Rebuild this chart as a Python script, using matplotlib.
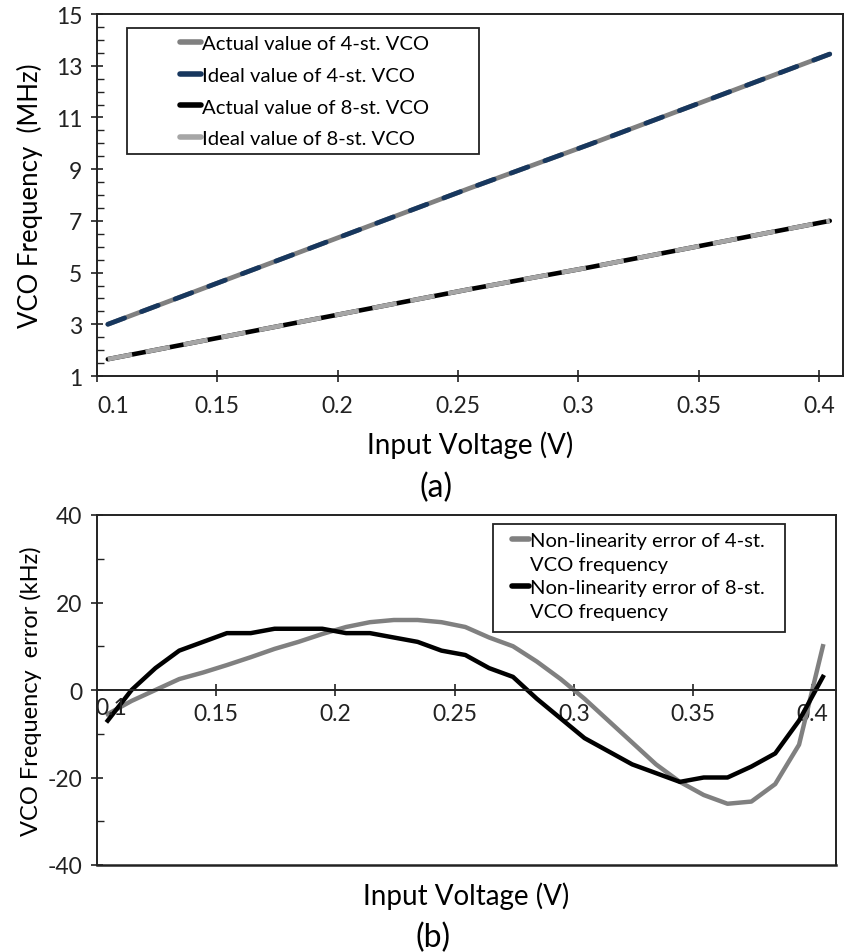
import matplotlib
matplotlib.use("Agg")
import matplotlib.pyplot as plt
from matplotlib.lines import Line2D
from matplotlib.patches import Rectangle
from matplotlib.ticker import MultipleLocator

plt.rcParams["font.family"] = ["Lato", "DejaVu Sans"]
plt.rcParams["axes.unicode_minus"] = False

# (a) VCO frequency (MHz) vs input voltage
V_TOP = [0.1045, 0.1545, 0.2045, 0.2545, 0.3045, 0.3545, 0.4045]
ACTUAL_4ST = [3.0, 4.75, 6.5, 8.25, 9.95, 11.7, 13.45]
IDEAL_4ST = [3.0, 4.75, 6.5, 8.25, 9.95, 11.7, 13.45]
ACTUAL_8ST = [1.65, 2.55, 3.45, 4.35, 5.2, 6.1, 7.0]
IDEAL_8ST = [1.65, 2.55, 3.45, 4.35, 5.2, 6.1, 7.0]

# (b) non-linearity error (kHz)
V_ERR = [0.1045, 0.1145, 0.1245, 0.1345, 0.1445, 0.1545, 0.1645, 0.1745,
         0.1845, 0.1945, 0.2045, 0.2145, 0.2245, 0.2345, 0.2445, 0.2545,
         0.2645, 0.2745, 0.2845, 0.2945, 0.3045, 0.3145, 0.3245, 0.3345,
         0.3445, 0.3545, 0.3645, 0.3745, 0.3845, 0.3945, 0.4045]
ERR_4ST = [-5.5, -2.5, 0, 2.5, 4, 5.7, 7.5, 9.4, 11, 12.8, 14.4, 15.5, 16, 16,
           15.5, 14.4, 12, 10, 6.5, 2.5, -2, -7, -12, -17, -21, -24, -26,
           -25.5, -21.5, -12.5, 10]
ERR_8ST = [-7, 0, 5, 9, 11, 13, 13, 14, 14, 14, 13, 13, 12, 11, 9, 8, 5, 3,
           -2, -6.5, -11, -14, -17, -19, -21, -20, -20, -17.5, -14.5, -7, 3]

X_TICKS = [0.1, 0.15, 0.2, 0.25, 0.3, 0.35, 0.4]
X_LABELS = ["0.1", "0.15", "0.2", "0.25", "0.3", "0.35", "0.4"]

GRAY = "#808080"
LIGHT = "#a6a6a6"
NAVY = "#17375e"
INK = "#222222"

W, H = 848, 953
fig = plt.figure(figsize=(W / 100, H / 100), dpi=100)
fig.patch.set_facecolor("white")


def px_axes(x0, y0, x1, y1):
    return fig.add_axes([x0 / W, 1 - y1 / H, (x1 - x0) / W, (y1 - y0) / H])


def style_axes(ax):
    for s in ax.spines.values():
        s.set_linewidth(1.4)
        s.set_color(INK)
    ax.tick_params(which="major", direction="inout", length=9, width=1.2,
                   labelsize=16.5, colors=INK)
    ax.tick_params(which="minor", direction="in", length=5, width=1.0,
                   colors=INK)
    ax.tick_params(axis="x", which="minor", bottom=False)


# ---- (a) ----
ax1 = px_axes(97, 15, 843, 377)
style_axes(ax1)
ax1.plot(V_TOP, ACTUAL_4ST, color=GRAY, lw=3.4, solid_capstyle="round")
ax1.plot(V_TOP, IDEAL_4ST, color=NAVY, lw=3.4, dashes=(3.8, 3.8),
         dash_capstyle="round")
ax1.plot(V_TOP, ACTUAL_8ST, color="black", lw=3.3, solid_capstyle="round")
ax1.plot(V_TOP, IDEAL_8ST, color=LIGHT, lw=3.3, dashes=(5.4, 3.0),
         dash_capstyle="butt")

ax1.set_xlim(0.1, 0.41)
ax1.set_ylim(1, 15)
ax1.set_yticks([1, 3, 5, 7, 9, 11, 13, 15])
ax1.yaxis.set_minor_locator(MultipleLocator(0.5))
ax1.set_xticks(X_TICKS)
ax1.set_xticklabels(X_LABELS)
ax1.get_xticklabels()[0].set_ha("left")
ax1.tick_params(axis="x", pad=9)
ax1.tick_params(axis="y", pad=6)

ax1.set_ylabel("VCO Frequency  (MHz)", fontsize=18.5, va="center")
ax1.yaxis.set_label_coords(-0.09, 0.5)
ax1.set_xlabel("Input Voltage (V)", fontsize=20)
ax1.xaxis.set_label_coords(0.5, -0.188)
ax1.xaxis.label.set_va("center")
ax1.text(0.455, -0.307, "(a)", transform=ax1.transAxes, fontsize=23,
         ha="center", va="center")

ax1.add_patch(Rectangle((0.0402, 0.613), 0.472, 0.348, transform=ax1.transAxes,
                        fill=False, edgecolor=INK, lw=1.3, zorder=5))
leg_handles = [
    Line2D([], [], color=GRAY, lw=4, solid_capstyle="round"),
    Line2D([], [], color=NAVY, lw=4, solid_capstyle="round"),
    Line2D([], [], color="black", lw=4, solid_capstyle="round"),
    Line2D([], [], color=LIGHT, lw=4, solid_capstyle="round"),
]
leg_labels = ["Actual value of 4-st. VCO", "Ideal value of 4-st. VCO",
              "Actual value of 8-st. VCO", "Ideal value of 8-st. VCO"]
ax1.legend(leg_handles, leg_labels, loc="upper left",
           bbox_to_anchor=(0.1, 0.965), frameon=False, fontsize=14.6,
           handlelength=1.05, handletextpad=0.05, labelspacing=0.72,
           borderaxespad=0)

# ---- (b) ----
ax2 = px_axes(97, 516, 836, 866)
style_axes(ax2)
ax2.plot(V_ERR, ERR_4ST, color=GRAY, lw=3.2)
ax2.plot(V_ERR, ERR_8ST, color="black", lw=3.2)

ax2.set_xlim(0.1, 0.41)
ax2.set_ylim(-40, 40)
ax2.set_yticks([-40, -20, 0, 20, 40])
ax2.yaxis.set_minor_locator(MultipleLocator(10))
ax2.spines["bottom"].set_position(("data", 0))
ax2.axhline(-40, color=INK, lw=1.8, clip_on=False)
ax2.set_xticks(X_TICKS[1:])
ax2.set_xticklabels(X_LABELS[1:])
ax2.text(0.0995, -1.5, "0.1", transform=ax2.transData, fontsize=16.5,
         ha="left", va="top", color=INK)
ax2.tick_params(axis="x", pad=5)
ax2.tick_params(axis="y", pad=6)

ax2.set_ylabel("VCO Frequency  error (kHz)", fontsize=17, va="center")
ax2.yaxis.set_label_coords(-0.09, 0.5)
ax2.text(0.5, -0.085, "Input Voltage (V)", transform=ax2.transAxes,
         fontsize=20, ha="center", va="center")
ax2.text(0.455, -0.205, "(b)", transform=ax2.transAxes, fontsize=23,
         ha="center", va="center")

ax2.add_patch(Rectangle((0.536, 0.666), 0.395, 0.308, transform=ax2.transAxes,
                        fill=False, edgecolor=INK, lw=1.3, zorder=5))
blank = Line2D([], [], color="none")
ax2.legend([Line2D([], [], color=GRAY, lw=4, solid_capstyle="round"), blank,
            Line2D([], [], color="black", lw=4, solid_capstyle="round"), blank],
           ["Non-linearity error of 4-st.", "VCO frequency",
            "Non-linearity error of 8-st.", "VCO frequency"],
           loc="upper left", bbox_to_anchor=(0.55, 0.975), frameon=False,
           fontsize=14.5, handlelength=0.85, handletextpad=0.08,
           labelspacing=0.33, borderaxespad=0)

fig.savefig("out.png", dpi=100)
